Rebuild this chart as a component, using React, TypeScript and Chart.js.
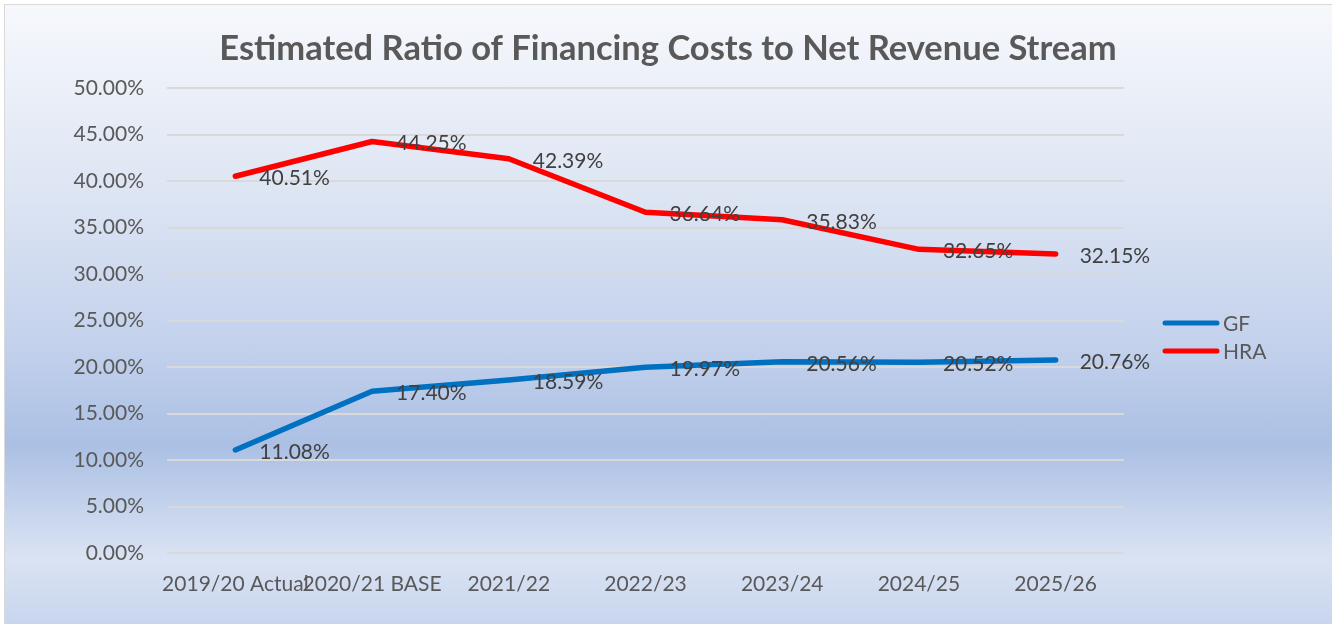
import React, { useEffect, useRef } from 'react';
import { Chart, registerables } from 'chart.js';

Chart.register(...registerables);

const chartTitle = 'Estimated Ratio of Financing Costs to Net Revenue Stream';
const categories = ['2019/20 Actual', '2020/21 BASE', '2021/22', '2022/23', '2023/24', '2024/25', '2025/26'];
const gfValues = [11.08, 17.4, 18.59, 19.97, 20.56, 20.52, 20.76];
const hraValues = [40.51, 44.25, 42.39, 36.64, 35.83, 32.65, 32.15];
const seriesNames = ['GF', 'HRA'];
const seriesColors = ['#0070C0', '#FF0000'];
const yMin = 0;
const yMax = 50;
const yStep = 5;

const FONT = 'Lato, "Open Sans", sans-serif';
const fmt = (v: number) => v.toFixed(2) + '%';

const extrasPlugin = {
  id: 'extras',
  afterDatasetsDraw(chart: any) {
    const ctx = chart.ctx;
    ctx.save();
    ctx.font = `21px ${FONT}`;
    ctx.fillStyle = '#404040';
    ctx.textAlign = 'left';
    ctx.textBaseline = 'middle';
    chart.data.datasets.forEach((ds: any, i: number) => {
      const meta = chart.getDatasetMeta(i);
      meta.data.forEach((pt: any, j: number) => {
        ctx.fillText(fmt(ds.data[j]), pt.x + 24, pt.y + 2);
      });
    });
    ctx.restore();
  },
  afterDraw(chart: any) {
    const ctx = chart.ctx;
    ctx.save();
    // title
    ctx.font = `bold 34.5px ${FONT}`;
    ctx.fillStyle = '#595959';
    ctx.textAlign = 'center';
    ctx.textBaseline = 'alphabetic';
    ctx.fillText(chartTitle, 668, 60);
    // legend
    chart.data.datasets.forEach((ds: any, i: number) => {
      const y = 323 + 28 * i;
      ctx.strokeStyle = ds.borderColor;
      ctx.lineWidth = 5;
      ctx.lineCap = 'round';
      ctx.beginPath();
      ctx.moveTo(1165, y);
      ctx.lineTo(1217, y);
      ctx.stroke();
      ctx.font = `21px ${FONT}`;
      ctx.fillStyle = '#595959';
      ctx.textAlign = 'left';
      ctx.textBaseline = 'middle';
      ctx.fillText(ds.label, 1223, y + 1);
    });
    ctx.restore();
  },
};

export default function App() {
  const canvasRef = useRef<HTMLCanvasElement | null>(null);

  useEffect(() => {
    document.body.style.margin = '0';
    const canvas = canvasRef.current;
    if (!canvas) return;
    const chart = new Chart(canvas, {
      type: 'line',
      data: {
        labels: categories,
        datasets: [
          {
            label: seriesNames[0],
            data: gfValues,
            borderColor: seriesColors[0],
            backgroundColor: seriesColors[0],
            borderWidth: 5.5,
            pointRadius: 0,
            tension: 0,
            borderCapStyle: 'round',
            borderJoinStyle: 'round',
          },
          {
            label: seriesNames[1],
            data: hraValues,
            borderColor: seriesColors[1],
            backgroundColor: seriesColors[1],
            borderWidth: 5.5,
            pointRadius: 0,
            tension: 0,
            borderCapStyle: 'round',
            borderJoinStyle: 'round',
          },
        ],
      },
      options: {
        animation: false,
        responsive: false,
        maintainAspectRatio: false,
        layout: { padding: { left: 73, top: 88, right: 208, bottom: 31 } },
        plugins: {
          legend: { display: false },
          title: { display: false },
          tooltip: { enabled: false },
        },
        scales: {
          x: {
            type: 'category',
            offset: true,
            grid: { display: false, drawTicks: false },
            border: { display: false },
            ticks: {
              autoSkip: false,
              maxRotation: 0,
              minRotation: 0,
              padding: 19,
              color: '#595959',
              font: { family: FONT, size: 21 },
            },
            afterFit: (s: any) => {
              s.height = 40;
            },
          },
          y: {
            min: yMin,
            max: yMax,
            grid: { color: '#D9D9D9', lineWidth: 2, drawTicks: false },
            border: { display: false },
            ticks: {
              stepSize: yStep,
              padding: 23,
              color: '#595959',
              font: { family: FONT, size: 21 },
              callback: (v: any) => fmt(Number(v)),
            },
            afterFit: (s: any) => {
              s.width = 94;
            },
          },
        },
      },
      plugins: [extrasPlugin],
    } as any);
    if ((document as any).fonts && (document as any).fonts.ready) {
      (document as any).fonts.ready.then(() => chart.update());
    }
    return () => chart.destroy();
  }, []);

  return (
    <div style={{ position: 'relative', width: 1332, height: 624, overflow: 'hidden', background: '#ffffff' }}>
      <div
        style={{
          position: 'absolute',
          left: 4,
          top: 4,
          width: 1400,
          height: 700,
          boxSizing: 'border-box',
          border: '1px solid #D9D9D9',
          background:
            'linear-gradient(to bottom, #f6f8fc 0px, #dde5f3 190px, #c3d1ec 340px, #abc0e4 440px, #dae3f3 553px, #c8d5ee 620px, #c8d5ee 700px)',
        }}
      />
      <canvas
        ref={canvasRef}
        width={1332}
        height={624}
        style={{ position: 'absolute', left: 0, top: 0, width: 1332, height: 624 }}
      />
    </div>
  );
}
